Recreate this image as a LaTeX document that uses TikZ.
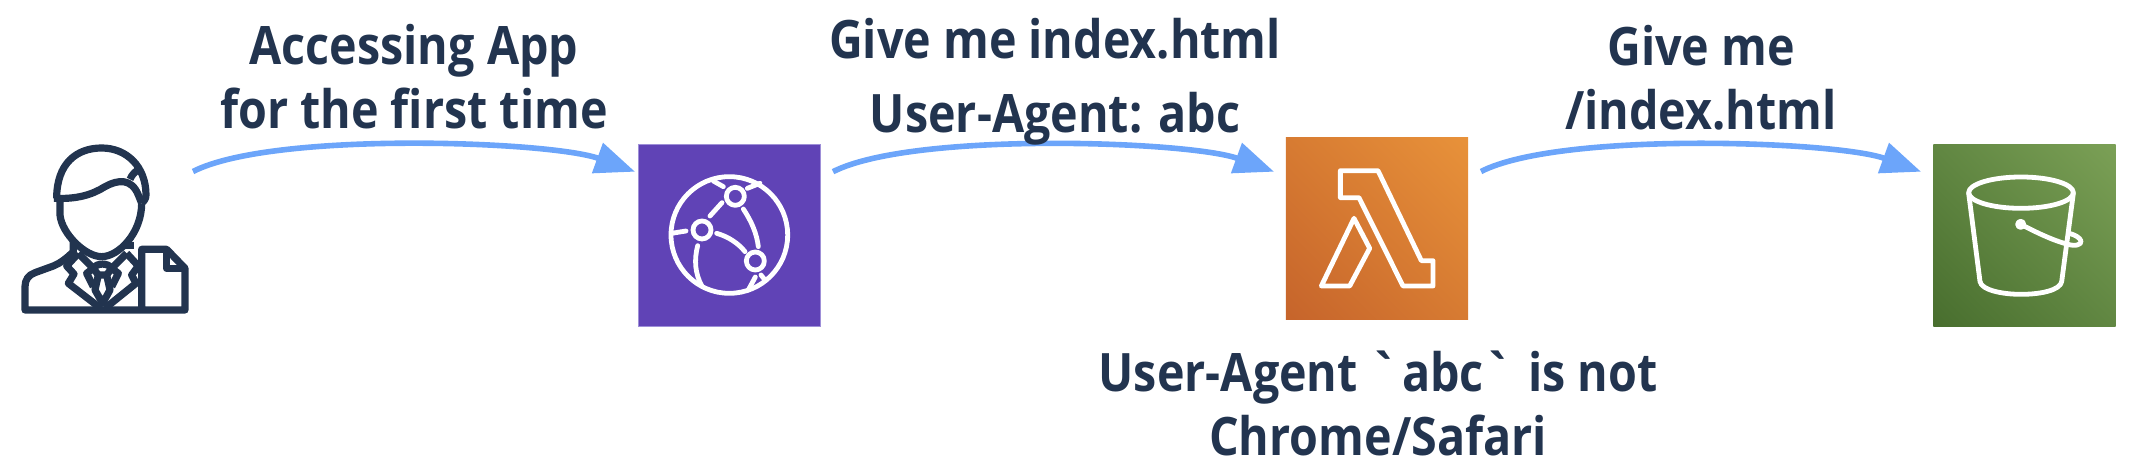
\documentclass[tikz,border=0pt]{standalone}
\usepackage{fontspec}
\setmainfont{Open Sans}[FakeStretch=.88]
\usetikzlibrary{arrows.meta,shadings}
\definecolor{inkblue}{HTML}{22344F}
\definecolor{flowblue}{HTML}{6CA5FA}
\definecolor{frontfill}{HTML}{6043B6}
\definecolor{frontedge}{HTML}{9E8FD8}
\definecolor{computelow}{HTML}{C6642B}
\definecolor{computemid}{HTML}{D77B32}
\definecolor{computehigh}{HTML}{E8923A}
\definecolor{bucketlow}{HTML}{486E2E}
\definecolor{bucketmid}{HTML}{618742}
\definecolor{buckethigh}{HTML}{7BA056}
\tikzset{
  caption/.style={text=inkblue,font=\fontsize{26.5}{32}\selectfont\bfseries,align=center,anchor=base,inner sep=0pt},
  flow/.style={draw=flowblue,line width=2.8pt,-{Triangle[length=20pt,width=15.5pt]},out=27,in=160,looseness=.52},
  iconbox/.style={minimum size=91.2pt,inner sep=0pt},
  glyph/.style={draw=white,line width=2.4pt,line join=round,line cap=round},
  persona/.style={draw=inkblue,line width=3.6pt,line join=round}
}
\begin{document}
\begin{tikzpicture}[x=.5pt,y=-.5pt]
\useasboundingbox (0,0) rectangle (2134,474);

\node (front) [iconbox,fill=frontfill,draw=frontedge,line width=.5pt] at (729.5,235.5) {};
\node (compute) [iconbox,lower left=computelow,upper right=computehigh,upper left=computemid,lower right=computemid] at (1377,228.5) {};
\node (bucket) [iconbox,lower left=bucketlow,upper right=buckethigh,upper left=bucketmid,lower right=bucketmid] at (2024.5,235.5) {};

\coordinate (userout) at (193,171.5);
\coordinate (frontin) at (635,171.7);
\coordinate (frontout) at (833,171.7);
\coordinate (computein) at (1274,171.7);
\coordinate (computeout) at (1481,171.5);
\coordinate (bucketin) at (1921,171.7);
\draw[flow] (userout) to (frontin);
\draw[flow] (frontout) to (computein);
\draw[flow] (computeout) to (bucketin);

\node[caption] (first) at (414,129) {Accessing App\\for the first time};
\node[caption] (ask) at (1055,133) {Give me index.html\\[5pt]User-Agent: abc};
\node[caption] (fetch) at (1701,130) {Give me\\/index.html};
\node[caption] (check) at (1378,456) {User-Agent \textasciigrave abc\textasciigrave{} is not\\Chrome/Safari};

\begin{scope}[shift={(10,140)},scale=1/3]
\draw[persona] (140,175) .. controls (140,70) and (200,24) .. (275,24) .. controls (350,24) and (408,80) .. (408,165) .. controls (408,178) and (400,185) .. (395,190);
\draw[persona] (132,175) .. controls (200,178) and (245,165) .. (285,140) .. controls (325,118) and (365,115) .. (385,165) -- (395,190);
\draw[persona] (360,118) .. controls (365,105) and (375,95) .. (390,85);
\draw[persona] (150,180) -- (150,225) .. controls (155,280) and (225,350) .. (275,350) .. controls (325,350) and (395,280) .. (395,190);
\draw[persona] (190,305) -- (190,335) .. controls (170,355) and (150,370) .. (130,378) -- (75,398) .. controls (55,405) and (45,420) .. (45,440) -- (45,510) -- (525,510) -- (525,385) -- (470,328) -- (395,328) -- (395,510);
\draw[persona] (470,330) -- (470,385) -- (525,385);
\draw[persona] (360,305) -- (360,328);
\draw[persona] (205,340) -- (170,378) -- (192,402) -- (175,430) -- (272,505);
\draw[persona] (350,340) -- (385,378) -- (365,405) -- (378,430) -- (285,505);
\draw[persona] (205,340) -- (250,385) -- (230,400) -- (250,440);
\draw[persona] (350,340) -- (305,385) -- (325,400) -- (305,440);
\draw[persona] (250,385) .. controls (260,368) and (295,368) .. (305,385) -- (290,405) -- (265,405) -- cycle;
\draw[persona] (265,405) -- (255,450) -- (278,490) -- (300,450) -- (290,405);
\end{scope}

\begin{scope}[shift={(630,135)},scale=1/3]
\draw[glyph] (298,300) circle [radius=175];
\draw[glyph] (316,184) circle [radius=27];
\draw[glyph] (216,285) circle [radius=27];
\draw[glyph] (376,378) circle [radius=27];
\draw[glyph] (250,138) -- (280,155);
\draw[glyph] (352,160) -- (390,145);
\draw[glyph] (276,203) -- (240,243);
\draw[glyph] (340,222) .. controls (365,260) and (380,295) .. (385,335);
\draw[glyph] (260,295) .. controls (295,305) and (325,325) .. (345,350);
\draw[glyph] (125,295) -- (168,288);
\draw[glyph] (203,332) .. controls (192,375) and (195,415) .. (215,452);
\draw[glyph] (376,426) -- (355,465);
\draw[glyph] (393,420) -- (405,435);
\end{scope}

\begin{scope}[shift={(1278,130)},scale=1/3]
\draw[glyph] (187,122) -- (300,122) -- (430,392) -- (465,392) -- (465,468) -- (375,468) -- (243,203) -- (187,203) -- cycle;
\draw[glyph] (228,265) -- (275,355) -- (215,468) -- (130,468) -- cycle;
\end{scope}

\begin{scope}[shift={(1925,135)},scale=1/3]
\draw[glyph] (288,173) ellipse [x radius=157,y radius=47];
\draw[glyph] (131,175) -- (165,440) .. controls (170,465) and (230,478) .. (288,478) .. controls (350,478) and (405,465) .. (410,440) -- (445,175);
\draw[glyph,fill=white] (287,268) circle [radius=9];
\draw[glyph] (287,268) .. controls (330,290) and (380,315) .. (425,327) .. controls (450,335) and (470,330) .. (468,318) .. controls (465,308) and (450,300) .. (433,295);
\end{scope}
\end{tikzpicture}
\end{document}
